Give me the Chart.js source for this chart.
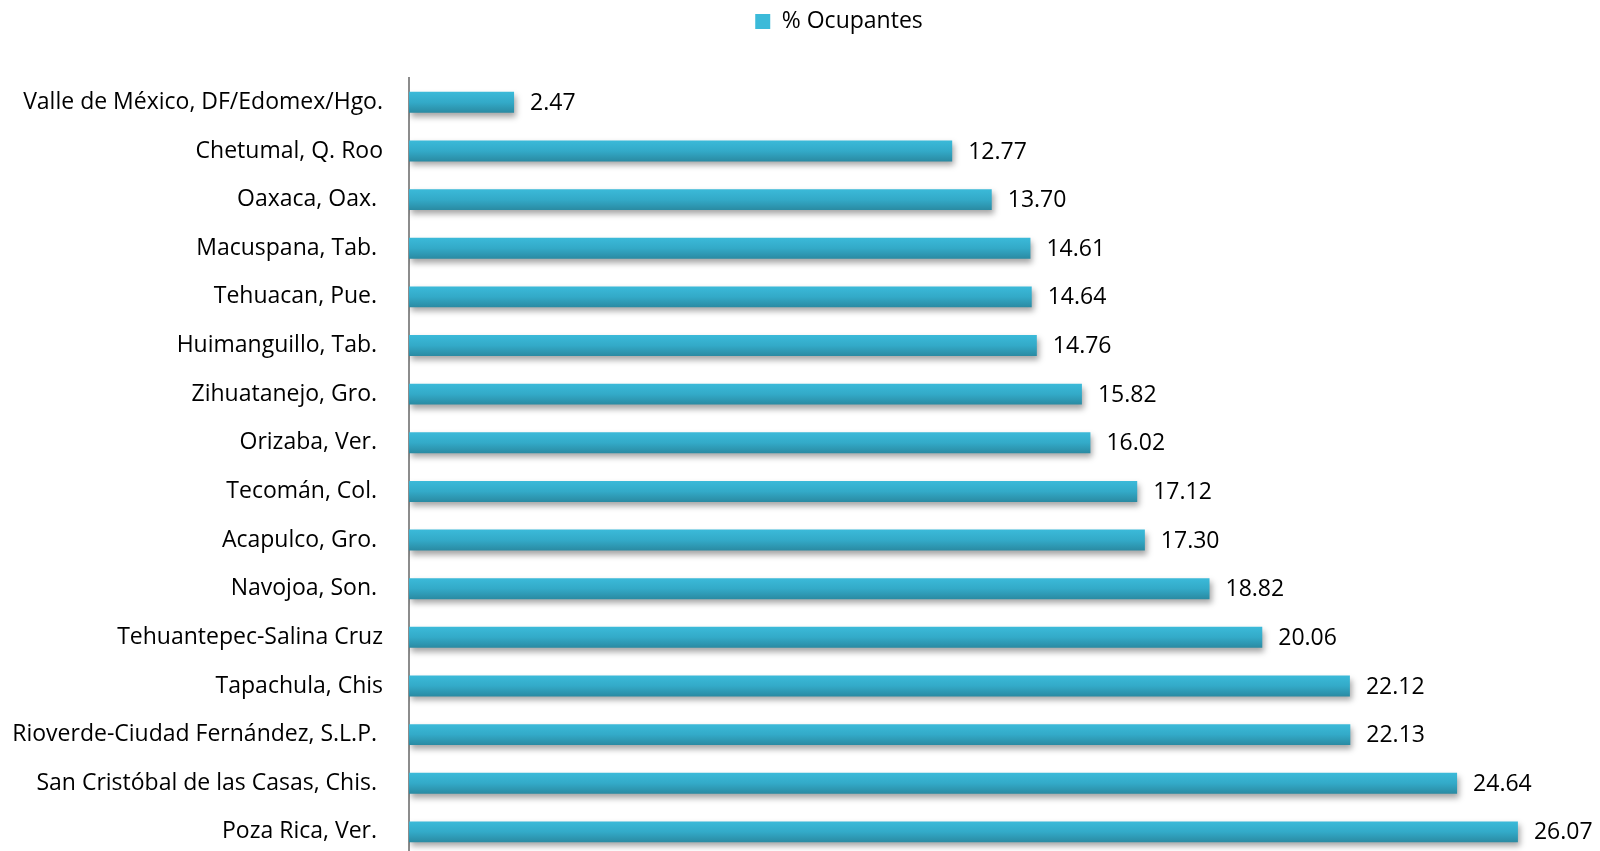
<!DOCTYPE html>
<html>
<head>
<meta charset="utf-8">
<script src="https://cdn.jsdelivr.net/npm/chart.js@4.4.1/dist/chart.umd.min.js"></script>
<style>
    html, body { margin: 0; padding: 0; background: #fff; overflow: hidden; }
    canvas { display: block; }
</style>
</head>
<body>
<canvas id="chartOcupantes" width="1600" height="896"></canvas>
<script>
const ciudades = [
    "Valle de México, DF/Edomex/Hgo.",
    "Chetumal, Q. Roo",
    "Oaxaca, Oax. ",
    "Macuspana, Tab. ",
    "Tehuacan, Pue. ",
    "Huimanguillo, Tab. ",
    "Zihuatanejo, Gro. ",
    "Orizaba, Ver. ",
    "Tecomán, Col. ",
    "Acapulco, Gro. ",
    "Navojoa, Son. ",
    "Tehuantepec-Salina Cruz",
    "Tapachula, Chis",
    "Rioverde-Ciudad Fernández, S.L.P. ",
    "San Cristóbal de las Casas, Chis. ",
    "Poza Rica, Ver. "
];
const ocupantes = [2.47, 12.77, 13.70, 14.61, 14.64, 14.76, 15.82, 16.02, 17.12, 17.30, 18.82, 20.06, 22.12, 22.13, 24.64, 26.07];
const serieNombre = "% Ocupantes";

const fuente = "'Open Sans', sans-serif";
const tamFuente = 23;

// degradado vertical de cada barra
function degradado(ctx, top, bottom) {
    const g = ctx.createLinearGradient(0, top, 0, bottom);
    g.addColorStop(0, "#3bbad9");
    g.addColorStop(0.5, "#33aac8");
    g.addColorStop(1, "#2a8aa2");
    return g;
}

// sombra bajo las barras
const sombraBarras = {
    id: "sombraBarras",
    beforeDatasetsDraw(chart) {
        const ctx = chart.ctx;
        ctx.save();
        ctx.shadowColor = "rgba(0,0,0,0.35)";
        ctx.shadowBlur = 6;
        ctx.shadowOffsetX = 2;
        ctx.shadowOffsetY = 4;
    },
    afterDatasetsDraw(chart) {
        chart.ctx.restore();
    }
};

// etiquetas de valor al final de cada barra
const etiquetasValor = {
    id: "etiquetasValor",
    afterDatasetsDraw(chart) {
        const ctx = chart.ctx;
        const meta = chart.getDatasetMeta(0);
        ctx.save();
        ctx.font = tamFuente + "px " + fuente;
        ctx.fillStyle = "#000";
        ctx.textAlign = "left";
        ctx.textBaseline = "middle";
        meta.data.forEach((bar, i) => {
            ctx.fillText(ocupantes[i].toFixed(2), bar.x + 16, bar.y + 1);
        });
        ctx.restore();
    }
};

// espacio entre la leyenda y el area del grafico, y leyenda algo a la derecha
const margenLeyenda = {
    id: "margenLeyenda",
    beforeInit(chart) {
        const fit = chart.legend.fit;
        chart.legend.fit = function () {
            fit.bind(chart.legend)();
            this.height = 78;
        };
    },
    beforeDraw(chart) {
        chart.legend.left = 39;
        chart.legend.right = 1639;
    }
};

const ctx = document.getElementById("chartOcupantes").getContext("2d");
const chart = new Chart(ctx, {
    type: "bar",
    data: {
        labels: ciudades,
        datasets: [{
            label: serieNombre,
            data: ocupantes,
            backgroundColor: (c) => {
                const y = c.chart.scales.y;
                if (c.dataIndex === undefined) {
                    return degradado(c.chart.ctx, 14, 29);
                }
                const py = y ? y.getPixelForValue(c.dataIndex) : NaN;
                if (!isFinite(py)) {
                    return "#33aac8";
                }
                return degradado(c.chart.ctx, py - 10.5, py + 10.5);
            },
            borderWidth: 0,
            barPercentage: 0.43,
            categoryPercentage: 1
        }]
    },
    options: {
        indexAxis: "y",
        responsive: false,
        animation: false,
        layout: { padding: 0 },
        plugins: {
            legend: {
                display: true,
                position: "top",
                labels: {
                    boxWidth: 15,
                    boxHeight: 15,
                    padding: 10,
                    color: "#000",
                    font: { family: fuente, size: tamFuente }
                }
            },
            tooltip: { enabled: false }
        },
        scales: {
            x: {
                display: false,
                min: 0,
                max: 28
            },
            y: {
                afterFit(scale) { scale.width = 409; },
                grid: { display: false, drawTicks: false },
                border: { display: true, color: "#8c8c8c", width: 2 },
                ticks: {
                    color: "#000",
                    padding: 26,
                    autoSkip: false,
                    font: { family: fuente, size: tamFuente }
                }
            }
        }
    },
    plugins: [margenLeyenda, sombraBarras, etiquetasValor]
});
</script>
</body>
</html>
